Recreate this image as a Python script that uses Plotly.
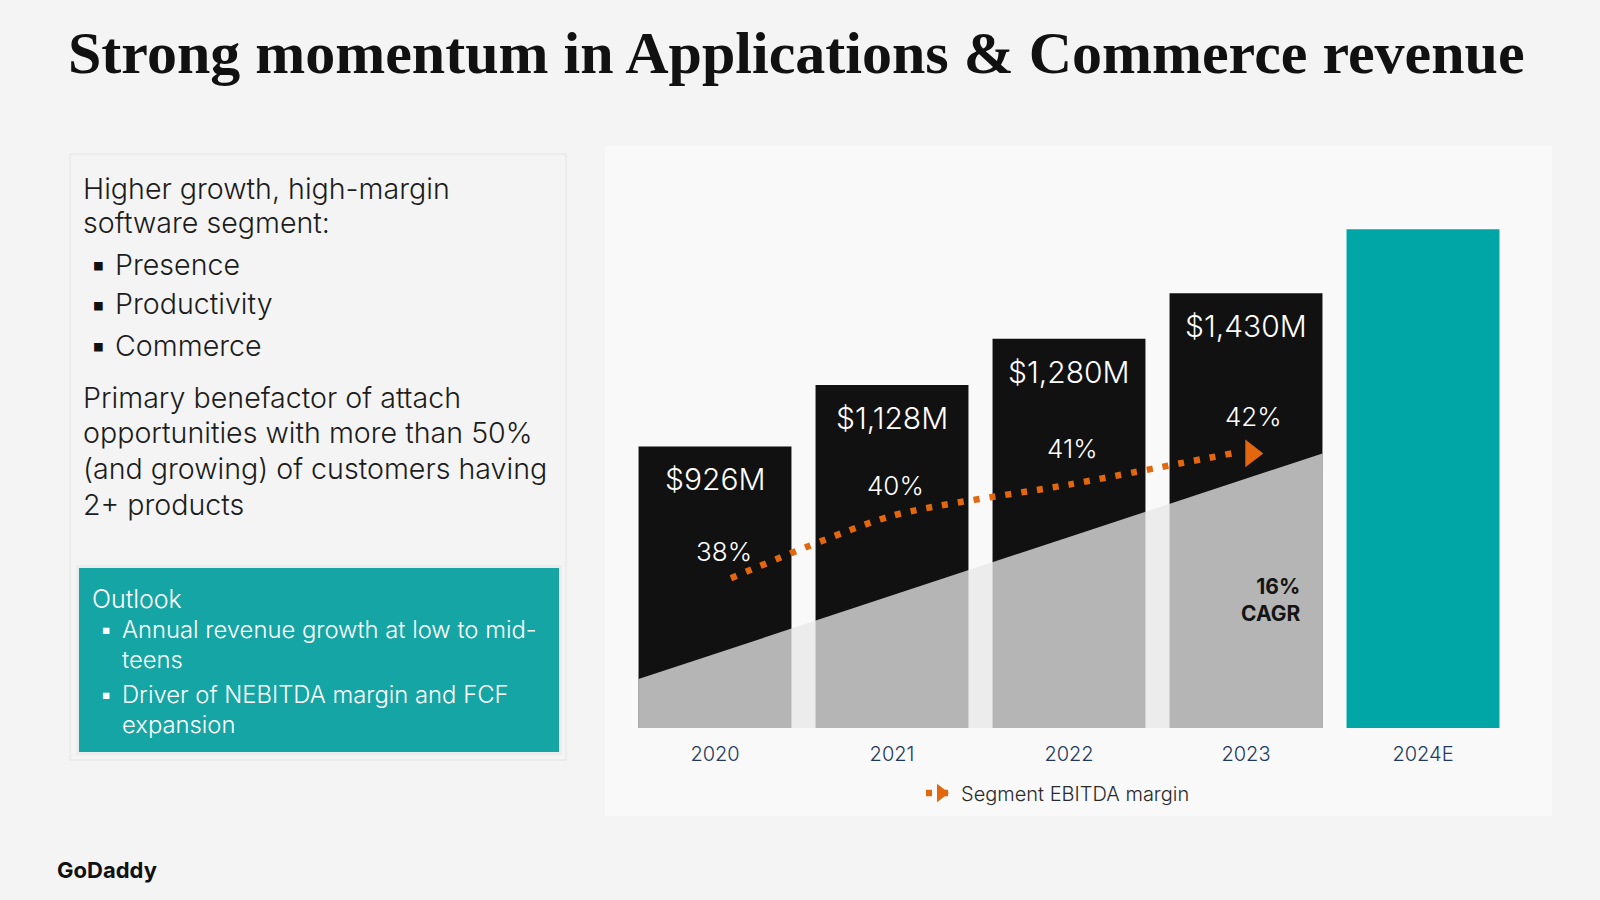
import plotly.graph_objects as go

# ---------------- data ----------------
years = ["2020", "2021", "2022", "2023", "2024E"]
revenue = [926, 1128, 1280, 1430, 1640]
revenue_labels = ["$926M", "$1,128M", "$1,280M", "$1,430M", ""]
margin = [38, 40, 41, 42]                      # Segment EBITDA margin (%), 2020-2023
margin_labels = ["38%", "40%", "41%", "42%"]
cagr_wedge = [161, 903]                        # height of CAGR wedge at first / last bar edge
cagr_text = ["16%", "CAGR"]

left_lines = ["Higher growth, high-margin", "software segment:"]
left_bullets = ["Presence", "Productivity", "Commerce"]
left_para = ["Primary benefactor of attach", "opportunities with more than 50%",
             "(and growing) of customers having", "2+ products"]
outlook_title = "Outlook"
outlook_lines = [("\u25aa", "Annual revenue growth at low to mid-"), ("", "teens"),
                 ("\u25aa", "Driver of NEBITDA margin and FCF"), ("", "expansion")]

# ---------------- helpers ----------------
W, H = 1600, 900
def px(x):
    return x / W
def py(y):
    return 1 - y / H

FONT = "Inter, 'Open Sans', sans-serif"
TXT = "#1c1c1c"
ORANGE = "#e2670e"
TEAL_BAR = "#00a6a6"
TEAL_BOX = "#16a5a5"

idx = list(range(len(years)))
bargap = 0.136
half = (1 - bargap) / 2

fig = go.Figure()

# bars
fig.add_trace(go.Bar(
    x=idx, y=revenue,
    marker=dict(color=["#111111"] * 4 + [TEAL_BAR], line=dict(width=0)),
    hoverinfo="skip", showlegend=False,
))

# CAGR wedge (semi-transparent overlay over 2020-2023 bars)
xl, xr = idx[0] - half, idx[3] + half
fig.add_trace(go.Scatter(
    x=[xl, xl, xr, xr], y=[0, cagr_wedge[0], cagr_wedge[1], 0],
    mode="lines", fill="toself", fillcolor="rgba(231,231,231,0.77)",
    line=dict(width=0), hoverinfo="skip", showlegend=False,
))

# EBITDA margin dotted line
mx = [float(i) for i in idx[:4]]
mx[0] += 0.09
mx[-1] -= 0.08
dotline = dict(color=ORANGE, width=6.5, dash="6px,10px")
fig.add_trace(go.Scatter(
    x=mx, y=margin, yaxis="y2", mode="lines",
    line=dict(**dotline, shape="spline", smoothing=0.7),
    hoverinfo="skip", showlegend=False,
))
# arrow head (also the legend entry)
fig.add_trace(go.Scatter(
    x=[idx[3] + 0.03], y=[margin[-1]], yaxis="y2", mode="lines+markers",
    line=dotline,
    marker=dict(symbol="triangle-right", size=24, color=ORANGE, line=dict(width=0)),
    name="Segment EBITDA margin", hoverinfo="skip", showlegend=True,
))

ann = []
# revenue labels
for i, lab in enumerate(revenue_labels):
    if lab:
        ann.append(dict(x=idx[i], y=revenue[i], xref="x", yref="y", text=lab,
                        showarrow=False, yanchor="middle", yshift=-33,
                        font=dict(family=FONT, size=30, color="white", weight=300)))
# margin labels
label_dx = [0.05, 0.02, 0.02, 0.04]
label_dy = [27, 30, 36, 37]
for i, lab in enumerate(margin_labels):
    ann.append(dict(x=idx[i] + label_dx[i], y=margin[i], xref="x", yref="y2", text=lab,
                    showarrow=False, yanchor="middle", yshift=label_dy[i],
                    font=dict(family=FONT, size=26, color="white", weight=300)))
# CAGR text
ann.append(dict(x=xr, y=py(600), xref="x", yref="paper", xshift=-19,
                text="<b>" + cagr_text[0] + "</b><br><b>" + cagr_text[1] + "</b>",
                showarrow=False, xanchor="right", yanchor="middle", align="right",
                font=dict(family=FONT, size=21, color="#141414")))

# title
ann.append(dict(x=px(796), y=py(53), xref="paper", yref="paper",
                text="<b>Strong momentum in Applications &amp; Commerce revenue</b>",
                showarrow=False, xanchor="center", yanchor="middle",
                font=dict(family="'Liberation Serif', 'DejaVu Serif', serif", size=60, color="#111111")))

# left text block
def left_text(x, y, t, size=28.6, color=TXT, weight=300):
    ann.append(dict(x=px(x), y=py(y), xref="paper", yref="paper", text=t,
                    showarrow=False, xanchor="left", yanchor="middle",
                    font=dict(family=FONT, size=size, color=color, weight=weight)))

for t, y in zip(left_lines, [188, 222]):
    left_text(81, y, t)
for t, y in zip(left_bullets, [264, 304, 345]):
    left_text(88, y, "\u25aa", size=30, color="#111111", weight=400)
    left_text(113, y, t)
for t, y in zip(left_para, [397, 432, 468, 504]):
    left_text(81, y, t)

left_text(90, 599, outlook_title, size=25, color="white")
for (b, t), y in zip(outlook_lines, [629, 659, 694, 724]):
    if b:
        left_text(98, y, b, size=22, color="white", weight=400)
    left_text(120, y, t, size=23.8, color="white")

# logo
ann.append(dict(x=px(55), y=py(870), xref="paper", yref="paper", text="<b>GoDaddy</b>",
                showarrow=False, xanchor="left", yanchor="middle",
                font=dict(family=FONT, size=22, color="#111111")))

shapes = [
    # chart panel
    dict(type="rect", xref="paper", yref="paper", x0=px(605), x1=px(1552), y0=py(816), y1=py(146),
         fillcolor="#f9f9f9", line=dict(width=0), layer="below"),
    # left text box
    dict(type="rect", xref="paper", yref="paper", x0=px(70), x1=px(566), y0=py(760), y1=py(154),
         fillcolor="#f4f4f4", line=dict(width=1, color="#e4e4e4"), layer="below"),
    # teal box shadow
    dict(type="rect", xref="paper", yref="paper", x0=px(76), x1=px(562), y0=py(755), y1=py(565),
         fillcolor="#ececec", line=dict(width=0), layer="below"),
    # teal box
    dict(type="rect", xref="paper", yref="paper", x0=px(79), x1=px(559), y0=py(752), y1=py(568),
         fillcolor=TEAL_BOX, line=dict(width=0), layer="below"),
]

# y2 mapping for margin line
ydom = [py(728), py(146)]
fig.update_layout(
    width=W, height=H,
    margin=dict(l=0, r=0, t=0, b=0),
    paper_bgcolor="#f4f4f4", plot_bgcolor="rgba(0,0,0,0)",
    bargap=bargap,
    xaxis=dict(domain=[px(626.5), px(1511.5)], range=[-0.5, 4.5],
               tickmode="array", tickvals=idx, ticktext=years,
               tickfont=dict(family=FONT, size=20, color="#1f3a5c", weight=300),
               showgrid=False, zeroline=False, showline=False, ticks="",
               ticklabelstandoff=12, fixedrange=True),
    yaxis=dict(domain=ydom, range=[0, 1914], visible=False, showgrid=False, zeroline=False),
    yaxis2=dict(domain=ydom, range=[33.2, 51.85], overlaying="y", visible=False,
                showgrid=False, zeroline=False),
    legend=dict(orientation="h", x=px(921), y=py(793), xanchor="left", yanchor="middle",
                bgcolor="rgba(0,0,0,0)", font=dict(family=FONT, size=20, color="#2a2a2a", weight=300)),
    annotations=ann,
    shapes=shapes,
    showlegend=True,
)

fig.write_html("out.html")
